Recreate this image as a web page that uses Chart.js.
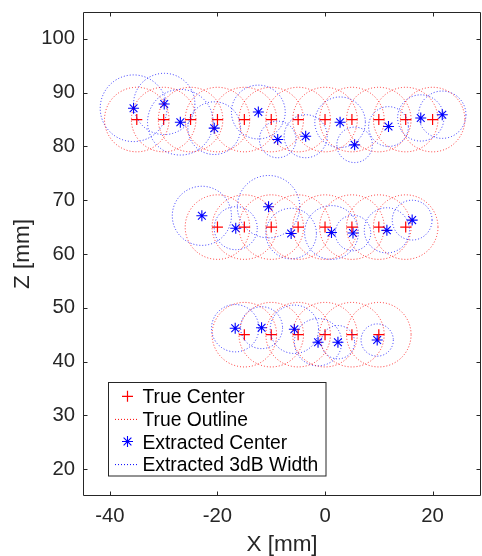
<!DOCTYPE html>
<html><head><meta charset="utf-8">
<script src="https://cdn.jsdelivr.net/npm/chart.js@4.4.0/dist/chart.umd.min.js"></script>
<style>html,body{margin:0;padding:0;background:#fff}#wrap{width:482px;height:556px}</style>
</head><body><div id="wrap"><canvas id="c" width="482" height="556"></canvas></div>
<script>
// Axis ticks
const xTicks = [-40, -20, 0, 20];
const zTicks = [20, 30, 40, 50, 60, 70, 80, 90, 100];

// True centers (mm) and true outline radius (mm)
const trueX = [-35, -30, -25, -20, -15, -10, -5, 0, 5, 10, 15, 20,
               -20, -15, -10, -5, 0, 5, 10, 15,
               -15, -10, -5, 0, 5, 10];
const trueZ = [85, 85, 85, 85, 85, 85, 85, 85, 85, 85, 85, 85,
               65, 65, 65, 65, 65, 65, 65, 65,
               45, 45, 45, 45, 45, 45];
const trueRadius = [6, 6, 6, 6, 6, 6, 6, 6, 6, 6, 6, 6,
                    6, 6, 6, 6, 6, 6, 6, 6,
                    6, 6, 6, 6, 6, 6];

// Extracted centers (mm) and 3dB half-width (mm)
const extX = [-35.6, -29.9, -26.9, -20.6, -12.4, -8.8, -3.6, 2.8, 5.5, 11.8, 17.8, 21.8,
              -22.9, -16.6, -10.5, -6.3, 1.2, 5.2, 11.5, 16.2,
              -16.7, -11.8, -5.7, -1.3, 2.4, 9.7];
const extZ = [87.1, 87.9, 84.5, 83.4, 86.4, 81.3, 81.9, 84.5, 80.3, 83.7, 85.3, 85.9,
              67.1, 64.8, 68.8, 63.8, 64.0, 63.9, 64.4, 66.3,
              46.2, 46.3, 46.0, 43.6, 43.6, 44.0];
const extRadius = [6.2, 5.7, 6.1, 4.9, 5.0, 3.4, 4.0, 4.7, 3.3, 3.7, 4.3, 4.4,
                   5.5, 4.0, 5.8, 4.7, 5.0, 3.3, 4.2, 3.7,
                   4.4, 3.9, 4.5, 4.4, 3.1, 3.0];

const legendLabels = ['True Center', 'True Outline', 'Extracted Center', 'Extracted 3dB Width'];
const xTitle = 'X [mm]';
const zTitle = 'Z [mm]';

const RED = '#ff0000', BLUE = '#0000ff', AXIS = '#262626';
const FONT = "'Liberation Sans', Arial, Helvetica, sans-serif";

function pts(xs, zs, rs) { return xs.map((x, i) => ({x: x, y: zs[i], w: rs ? rs[i] : 0})); }
function mmRadius(c) {
  const s = c.chart.scales.x;
  if (!s || !c.raw) return 0;
  return Math.abs(s.getPixelForValue(c.raw.w) - s.getPixelForValue(0));
}
function zeroPad(s) { s.paddingLeft = 0; s.paddingRight = 0; s.paddingTop = 0; s.paddingBottom = 0; }

const dashPlugin = {
  id: 'dash',
  beforeDatasetDraw(chart, args) {
    const ds = chart.data.datasets[args.index];
    if (ds.dotted) { chart.ctx.save(); chart.ctx.setLineDash(ds.dotted); }
  },
  afterDatasetDraw(chart, args) {
    const ds = chart.data.datasets[args.index];
    if (ds.dotted) chart.ctx.restore();
  }
};

const framePlugin = {
  id: 'frame',
  afterDatasetsDraw(chart) {
    const {ctx, chartArea: a, scales} = chart;
    ctx.save();
    ctx.strokeStyle = AXIS; ctx.lineWidth = 1; ctx.setLineDash([]);
    ctx.beginPath();
    ctx.rect(a.left + 0.5, a.top + 0.5, a.right - a.left - 1, a.bottom - a.top - 1);
    const tl = 4.5;
    xTicks.forEach(v => {
      const px = Math.round(scales.x.getPixelForValue(v)) + 0.5;
      ctx.moveTo(px, a.bottom); ctx.lineTo(px, a.bottom - tl);
      ctx.moveTo(px, a.top); ctx.lineTo(px, a.top + tl);
    });
    zTicks.forEach(v => {
      const py = Math.round(scales.y.getPixelForValue(v)) + 0.5;
      ctx.moveTo(a.left, py); ctx.lineTo(a.left + tl, py);
      ctx.moveTo(a.right, py); ctx.lineTo(a.right - tl, py);
    });
    ctx.stroke();
    ctx.restore();
  },
  afterDraw(chart) {
    const ctx = chart.ctx;
    ctx.save();
    // legend box
    const bx = 108.5, by = 382.5, bw = 217.5, bh = 93.5;
    ctx.fillStyle = '#fff';
    ctx.fillRect(bx, by, bw, bh);
    ctx.strokeStyle = AXIS; ctx.lineWidth = 1;
    ctx.strokeRect(bx, by, bw, bh);
    const baselines = [403.3, 425.9, 448.5, 471.1];
    const symX = 127.5;
    legendLabels.forEach((t, i) => {
      const cy = baselines[i] - 7;
      ctx.save();
      if (i === 0) {
        ctx.strokeStyle = RED; ctx.lineWidth = 1.2;
        ctx.beginPath(); ctx.moveTo(symX - 5.5, cy); ctx.lineTo(symX + 5.5, cy);
        ctx.moveTo(symX, cy - 5.5); ctx.lineTo(symX, cy + 5.5); ctx.stroke();
      } else if (i === 2) {
        ctx.strokeStyle = BLUE; ctx.lineWidth = 1.1;
        Chart.helpers.drawPoint(ctx, {pointStyle: 'star', radius: 5.5, borderWidth: 1.1}, symX, cy);
      } else {
        ctx.strokeStyle = i === 1 ? RED : BLUE; ctx.lineWidth = 1;
        ctx.setLineDash([1, 2]);
        ctx.beginPath(); ctx.moveTo(115, cy + 0.5); ctx.lineTo(139, cy + 0.5); ctx.stroke();
      }
      ctx.restore();
      ctx.fillStyle = '#000';
      ctx.font = '19.3px ' + FONT;
      ctx.textAlign = 'left'; ctx.textBaseline = 'alphabetic';
      ctx.fillText(t, 142.5, baselines[i]);
    });
    ctx.restore();
  }
};

new Chart(document.getElementById('c'), {
  type: 'scatter',
  data: {
    datasets: [
      { label: legendLabels[1], data: pts(trueX, trueZ, trueRadius), dotted: [1, 2],
        pointStyle: 'circle', pointRadius: mmRadius, pointBackgroundColor: 'rgba(0,0,0,0)',
        pointBorderColor: 'rgba(255,0,0,0.8)', pointBorderWidth: 1, showLine: false },
      { label: legendLabels[3], data: pts(extX, extZ, extRadius), dotted: [1, 2],
        pointStyle: 'circle', pointRadius: mmRadius, pointBackgroundColor: 'rgba(0,0,0,0)',
        pointBorderColor: 'rgba(0,0,255,0.8)', pointBorderWidth: 1, showLine: false },
      { label: legendLabels[0], data: pts(trueX, trueZ), pointStyle: 'cross', pointRadius: 5.5,
        pointBorderColor: RED, pointBackgroundColor: RED, pointBorderWidth: 1.2, showLine: false },
      { label: legendLabels[2], data: pts(extX, extZ), pointStyle: 'star', pointRadius: 5.5,
        pointBorderColor: BLUE, pointBackgroundColor: BLUE, pointBorderWidth: 1.1, showLine: false }
    ]
  },
  options: {
    responsive: false,
    animation: false,
    events: [],
    layout: { autoPadding: false, padding: { top: 12, right: 1, left: 0, bottom: 0 } },
    plugins: { legend: { display: false }, tooltip: { enabled: false } },
    scales: {
      x: {
        type: 'linear', position: 'bottom', min: -45, max: 29,
        afterBuildTicks: s => { s.ticks = xTicks.map(v => ({value: v})); },
        afterFit: s => { s.height = 60; zeroPad(s); },
        grid: { display: false, drawTicks: false },
        border: { display: false },
        ticks: { color: AXIS, padding: 8, font: { family: FONT, size: 20.3 }, maxRotation: 0, autoSkip: false },
        title: { display: true, text: xTitle, color: AXIS, padding: { top: 0, bottom: 0 },
                 font: { family: FONT, size: 22.5, lineHeight: 1 } }
      },
      y: {
        type: 'linear', position: 'left', min: 15, max: 105,
        afterBuildTicks: s => { s.ticks = zTicks.map(v => ({value: v})); },
        afterFit: s => { s.width = 83; zeroPad(s); },
        grid: { display: false, drawTicks: false },
        border: { display: false },
        ticks: { color: AXIS, padding: 8, font: { family: FONT, size: 20.3 }, autoSkip: false },
        title: { display: true, text: zTitle, color: AXIS, padding: { top: 12, bottom: 0 },
                 font: { family: FONT, size: 22.5, lineHeight: 1 } }
      }
    }
  },
  plugins: [dashPlugin, framePlugin]
});
</script></body></html>
